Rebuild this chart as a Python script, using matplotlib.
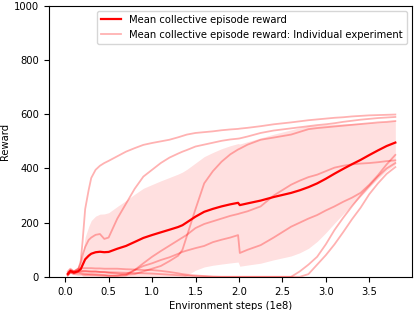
import numpy as np
import matplotlib

matplotlib.use("Agg")
import matplotlib.pyplot as plt

# environment steps (1e8), shared by all runs
steps = [0.03, 0.06, 0.1, 0.15, 0.18, 0.2, 0.23, 0.27, 0.3, 0.35, 0.4, 0.45, 0.5,
         0.6, 0.7, 0.8, 0.9, 1.0, 1.1, 1.2, 1.3, 1.35, 1.4, 1.5, 1.6, 1.7, 1.8, 1.9,
         1.99, 2.01, 2.1, 2.25, 2.4, 2.6, 2.7, 2.8, 2.9, 3.0, 3.1, 3.2, 3.3, 3.4,
         3.5, 3.6, 3.7, 3.8]

run_a = [20, 30, 20, 25, 60, 130, 250, 320, 365, 395, 410, 420, 428,
         445, 462, 475, 487, 494, 500, 506, 515, 520, 525, 531, 534, 537, 541, 544,
         546, 547, 550, 556, 563, 570, 574, 578, 581, 584, 587, 589, 592, 594,
         596, 597, 598, 599]
run_b = [15, 25, 20, 30, 50, 80, 110, 136, 145, 155, 158, 140, 145,
         215, 270, 325, 370, 395, 420, 440, 455, 462, 468, 481, 488, 495, 502, 507,
         510, 511, 518, 531, 540, 548, 552, 556, 560, 563, 567, 572, 576, 580,
         583, 586, 588, 590]
run_c = [10, 20, 15, 20, 22, 22, 22, 21, 20, 20, 18, 17, 15,
         12, 8, 10, 20, 30, 40, 58, 78, 100, 150, 250, 345, 390, 425, 452,
         470, 473, 488, 506, 514, 525, 535, 545, 549, 552, 555, 558, 561, 564,
         567, 570, 572, 575]
run_d = [10, 20, 15, 15, 13, 12, 11, 10, 10, 9, 8, 7, 5,
         3, 5, 25, 50, 74, 95, 115, 135, 145, 155, 180, 195, 205, 215, 225,
         232, 234, 242, 260, 300, 340, 355, 368, 377, 390, 403, 410, 415, 418,
         420, 423, 427, 430]
run_e = [5, 15, 10, 8, 8, 8, 7, 7, 6, 6, 5, 4, 3,
         5, 10, 25, 40, 50, 62, 72, 85, 92, 97, 106, 114, 128, 137, 145,
         154, 88, 100, 117, 145, 185, 200, 215, 228, 245, 260, 277, 292, 310,
         340, 375, 415, 450]
run_f = [10, 25, 20, 30, 31, 32, 32, 32, 32, 31, 31, 30, 30,
         30, 28, 27, 25, 25, 22, 18, 13, 10, 8, 5, 3, 1, 0, 0,
         0, 0, 0, 0, 0, 0, 20, 45, 74, 120, 173, 218, 260, 300,
         335, 370, 400, 420]
run_g = [5, 15, 12, 18, 19, 20, 20, 19, 19, 19, 18, 18, 17,
         16, 15, 14, 13, 12, 10, 8, 6, 5, 4, 2, 1, 0, 0, 0,
         0, 0, 0, 0, 0, 0, 0, 10, 45, 80, 120, 165, 212, 255,
         305, 345, 380, 405]

runs = np.array([run_a, run_b, run_c, run_d, run_e, run_f, run_g], float)
x = np.array(steps)
mean = runs.mean(axis=0)
std = runs.std(axis=0)

FS = 7.2

fig = plt.figure(figsize=(4.16, 3.10), dpi=100)
ax = fig.add_axes([0.117, 0.107, 0.873, 0.874])

ax.fill_between(x, mean - std, mean + std, color="red", alpha=0.12, linewidth=0)
ax.plot(x, mean, color="red", lw=1.6, label="Mean collective episode reward", zorder=4)
for i, r in enumerate(runs):
    ax.plot(x, r, color="red", alpha=0.3, lw=1.3,
            label="Mean collective episode reward: Individual experiment" if i == 0 else None)

ax.set_xlim(-0.19, 3.99)
ax.set_ylim(0, 1000)
ax.set_xticks([0.0, 0.5, 1.0, 1.5, 2.0, 2.5, 3.0, 3.5])
ax.set_yticks([0, 200, 400, 600, 800, 1000])
ax.tick_params(labelsize=FS)
ax.set_xlabel("Environment steps (1e8)", fontsize=FS, labelpad=3)
ax.set_ylabel("Reward", fontsize=FS, labelpad=3)
ax.legend(loc="upper right", fontsize=FS)

fig.savefig("out.png", dpi=100)
